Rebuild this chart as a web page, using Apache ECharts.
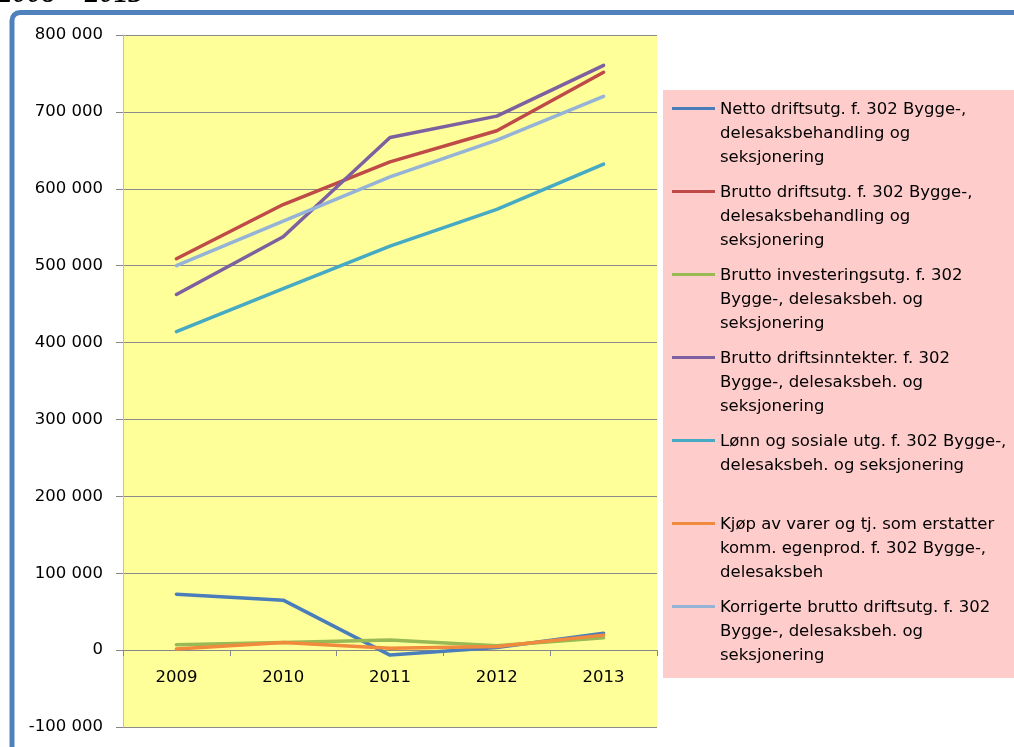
<!DOCTYPE html>
<html>
<head>
<meta charset="utf-8">
<script src="https://cdn.jsdelivr.net/npm/echarts@6.0.0/dist/echarts.min.js"></script>
<style>
  html, body { margin: 0; padding: 0; background: #fff; }
  #chart { width: 1014px; height: 747px; }
</style>
</head>
<body>
<div id="chart"></div>
<script>
// Years on the x axis
const years = ['2009', '2010', '2011', '2012', '2013'];

// Series values (1000 kr)
const netto = [72700, 65000, -6500, 3500, 22000];
const bruttoDrift = [509000, 579500, 635000, 675500, 751500];
const bruttoInvest = [7000, 10000, 13000, 5600, 16000];
const bruttoInntekt = [462500, 537500, 666800, 694500, 760500];
const lonn = [414200, 470000, 525500, 573200, 632000];
const kjop = [1300, 10000, 2300, 4800, 19500];
const korrigert = [500000, 557800, 615600, 663200, 720300];

// Series names and their wrapped legend text
const seriesNames = [
    'Netto driftsutg. f. 302 Bygge-, delesaksbehandling og seksjonering',
    'Brutto driftsutg. f. 302 Bygge-, delesaksbehandling og seksjonering',
    'Brutto investeringsutg. f. 302 Bygge-, delesaksbeh. og seksjonering',
    'Brutto driftsinntekter. f. 302 Bygge-, delesaksbeh. og seksjonering',
    'Lønn og sosiale utg. f. 302 Bygge-, delesaksbeh. og seksjonering',
    'Kjøp av varer og tj. som erstatter komm. egenprod. f. 302 Bygge-, delesaksbeh',
    'Korrigerte brutto driftsutg. f. 302 Bygge-, delesaksbeh. og seksjonering'
];
const legendLines = [
    'Netto driftsutg. f. 302 Bygge-,\ndelesaksbehandling og\nseksjonering',
    'Brutto driftsutg. f. 302 Bygge-,\ndelesaksbehandling og\nseksjonering',
    'Brutto investeringsutg. f. 302\nBygge-, delesaksbeh. og\nseksjonering',
    'Brutto driftsinntekter. f. 302\nBygge-, delesaksbeh. og\nseksjonering',
    'Lønn og sosiale utg. f. 302 Bygge-,\ndelesaksbeh. og seksjonering\n ',
    'Kjøp av varer og tj. som erstatter\nkomm. egenprod. f. 302 Bygge-,\ndelesaksbeh',
    'Korrigerte brutto driftsutg. f. 302\nBygge-, delesaksbeh. og\nseksjonering'
];
const seriesValues = [netto, bruttoDrift, bruttoInvest, bruttoInntekt, lonn, kjop, korrigert];
const colors = ['#4A7EBB', '#BE4B48', '#98B954', '#7D60A0', '#46AAC5', '#F08A3C', '#95B3D7'];

const yTicks = { min: -100000, max: 800000, step: 100000 };

const FONT = 'DejaVu Sans';
const GRID_TOP = 35;
const GRID_HEIGHT = 692;

function formatThousands(v) {
    const s = Math.abs(v).toString().replace(/\B(?=(\d{3})+(?!\d))/g, ' ');
    return (v < 0 ? '-' : '') + s;
}

// x axis sits on the zero line: shift it up from the grid bottom
const zeroOffset = -GRID_HEIGHT * (0 - yTicks.min) / (yTicks.max - yTicks.min);

const chart = echarts.init(document.getElementById('chart'));

const option = {
    backgroundColor: '#ffffff',
    animation: false,
    color: colors,
    graphic: [
        {
            // cut-off heading above the frame
            type: 'text',
            left: -2,
            top: -20,
            style: {
                text: '2008 – 2013',
                font: 'italic bold 29px "Liberation Serif"',
                fill: '#000'
            }
        },
        {
            // blue chart frame
            type: 'rect',
            shape: { x: 12, y: 12.5, width: 1100, height: 900, r: 8 },
            style: { fill: 'none', stroke: '#4F81BD', lineWidth: 5 },
            z: 10
        }
    ],
    grid: {
        left: 123,
        top: GRID_TOP,
        width: 534,
        height: GRID_HEIGHT,
        outerBoundsMode: 'none',
        containLabel: false,
        show: true,
        backgroundColor: '#FFFF99',
        borderWidth: 0
    },
    legend: {
        orient: 'vertical',
        left: 663,
        top: 90,
        backgroundColor: '#FFCCCC',
        padding: [7.5, 40, 10.5, 9],
        itemGap: 11,
        itemWidth: 43,
        itemHeight: 72,
        icon: 'path://M0,0h0.01v0.01h-0.01z M0,9.5h43v3h-43z M0,71.99h0.01v0.01h-0.01z',
        itemStyle: { borderWidth: 0 },
        textStyle: {
            fontFamily: FONT,
            fontSize: 16.5,
            lineHeight: 24,
            color: '#000'
        },
        formatter: name => legendLines[seriesNames.indexOf(name)],
        data: seriesNames
    },
    xAxis: {
        type: 'category',
        data: years,
        boundaryGap: true,
        position: 'bottom',
        offset: zeroOffset,
        axisLine: { onZero: false, lineStyle: { color: '#868686', width: 1 } },
        axisTick: { show: true, length: 6, alignWithLabel: false, lineStyle: { color: '#868686' } },
        axisLabel: {
            fontFamily: FONT,
            fontSize: 16.5,
            color: '#000',
            margin: 19
        },
        splitLine: { show: false }
    },
    yAxis: {
        type: 'value',
        min: yTicks.min,
        max: yTicks.max,
        interval: yTicks.step,
        axisLine: { show: true, lineStyle: { color: '#BFBFBF', width: 1 } },
        axisTick: { show: true, length: 7, lineStyle: { color: '#868686' } },
        axisLabel: {
            fontFamily: FONT,
            fontSize: 16.5,
            color: '#000',
            margin: 20,
            formatter: formatThousands
        },
        splitLine: { show: true, lineStyle: { color: '#8C8C8C', width: 1 } }
    },
    series: seriesValues.map((values, i) => ({
        name: seriesNames[i],
        type: 'line',
        data: values,
        symbol: 'none',
        lineStyle: { width: 3.5, color: colors[i], cap: 'round', join: 'round' },
        itemStyle: { color: colors[i] }
    }))
};

chart.setOption(option);
</script>
</body>
</html>
